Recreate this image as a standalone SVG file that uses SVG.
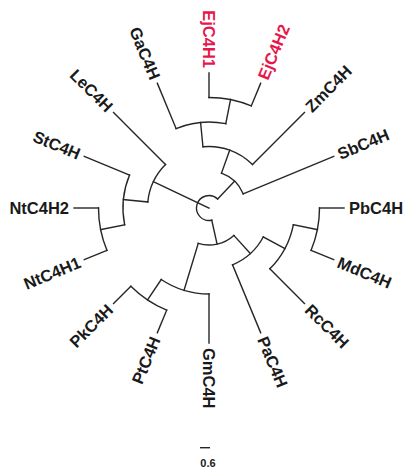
<svg xmlns="http://www.w3.org/2000/svg" width="406" height="473" viewBox="0 0 406 473">
  <style>
    .br { fill: none; stroke: #262626; stroke-width: 1.4; stroke-linecap: square; }
    .lb { font-family: "Liberation Sans", Arial, sans-serif; font-size: 16.5px; font-weight: bold; fill: #1a1a1a; }
    .hl { fill: #e8174b; }
    .st { text-anchor: start; }
    .en { text-anchor: end; }
  </style>
  <rect width="406" height="473" fill="#ffffff"/>

  <!-- radial cladogram, centre (209,208), levels r = 12.5, 37, 61.5, 86, 110.5, tips 135 -->
  <g id="connectors">
    <!-- root -->
    <path class="br" d="M217.62,198.95 A12.5,12.5 0 1 0 211.74,220.20"/>
    <path class="br" d="M209,208 L153.41,181.71"/>

    <!-- monocot / Ga / Ej clade -->
    <path class="br" d="M217.62,198.95 L234.51,181.20"/>
    <path class="br" d="M221.47,173.16 A37,37 0 0 1 243.18,193.84"/>
    <path class="br" d="M243.18,193.84 L333.72,156.34"/>
    <path class="br" d="M221.47,173.16 L229.72,150.10"/>
    <path class="br" d="M202.97,146.80 A61.5,61.5 0 0 1 252.49,164.51"/>
    <path class="br" d="M252.49,164.51 L304.46,112.54"/>
    <path class="br" d="M202.97,146.80 L200.57,122.42"/>
    <path class="br" d="M176.09,128.55 A86,86 0 0 1 225.78,123.65"/>
    <path class="br" d="M176.09,128.55 L157.34,83.28"/>
    <path class="br" d="M225.78,123.65 L230.56,99.62"/>
    <path class="br" d="M209,97.5 A110.5,110.5 0 0 1 251.29,105.91"/>
    <path class="br" d="M209,97.5 L209,73"/>
    <path class="br" d="M251.29,105.91 L260.66,83.28"/>

    <!-- lower clade -->
    <path class="br" d="M211.74,220.20 L217.11,244.10"/>
    <path class="br" d="M233.85,235.42 A37,37 0 0 1 198.26,243.41"/>
    <path class="br" d="M233.85,235.42 L250.30,253.57"/>
    <path class="br" d="M263.24,236.99 A61.5,61.5 0 0 1 232.53,264.82"/>
    <path class="br" d="M232.53,264.82 L260.66,332.72"/>
    <path class="br" d="M263.24,236.99 L284.85,248.54"/>
    <path class="br" d="M293.35,224.78 A86,86 0 0 1 269.81,268.81"/>
    <path class="br" d="M269.81,268.81 L304.46,303.46"/>
    <path class="br" d="M293.35,224.78 L317.38,229.56"/>
    <path class="br" d="M319.5,208 A110.5,110.5 0 0 1 311.09,250.29"/>
    <path class="br" d="M319.5,208 L344,208"/>
    <path class="br" d="M311.09,250.29 L333.72,259.66"/>

    <path class="br" d="M198.26,243.41 L184.04,290.30"/>
    <path class="br" d="M209,294 A86,86 0 0 1 161.22,279.51"/>
    <path class="br" d="M209,294 L209,343"/>
    <path class="br" d="M161.22,279.51 L147.61,299.88"/>
    <path class="br" d="M166.71,310.09 A110.5,110.5 0 0 1 130.86,286.14"/>
    <path class="br" d="M166.71,310.09 L157.34,332.72"/>
    <path class="br" d="M130.86,286.14 L113.54,303.46"/>

    <!-- Solanaceae clade -->
    <path class="br" d="M165.51,164.51 A61.5,61.5 0 0 0 147.80,201.97"/>
    <path class="br" d="M165.51,164.51 L113.54,112.54"/>
    <path class="br" d="M147.80,201.97 L123.42,199.57"/>
    <path class="br" d="M129.55,175.09 A86,86 0 0 0 124.65,224.78"/>
    <path class="br" d="M129.55,175.09 L84.28,156.34"/>
    <path class="br" d="M124.65,224.78 L100.62,229.56"/>
    <path class="br" d="M98.5,208 A110.5,110.5 0 0 0 106.91,250.29"/>
    <path class="br" d="M98.5,208 L74,208"/>
    <path class="br" d="M106.91,250.29 L84.28,259.66"/>
  </g>

  <!-- leaf labels -->
  <g id="PbC4H"><text class="lb st" x="349" y="208" dy=".36em">PbC4H</text></g>
  <g id="MdC4H"><text class="lb st" x="338.34" y="261.58" dy=".36em" transform="rotate(22.5 338.34 261.58)">MdC4H</text></g>
  <g id="RcC4H"><text class="lb st" x="307.99" y="306.99" dy=".36em" transform="rotate(45 307.99 306.99)">RcC4H</text></g>
  <g id="PaC4H"><text class="lb st" x="262.58" y="337.34" dy=".36em" transform="rotate(67.5 262.58 337.34)">PaC4H</text></g>
  <g id="GmC4H"><text class="lb st" x="209" y="348" dy=".36em" transform="rotate(90 209 348)">GmC4H</text></g>
  <g id="PtC4H"><text class="lb en" x="155.43" y="337.34" dy=".36em" transform="rotate(-67.5 155.43 337.34)">PtC4H</text></g>
  <g id="PkC4H"><text class="lb en" x="110.01" y="306.99" dy=".36em" transform="rotate(-45 110.01 306.99)">PkC4H</text></g>
  <g id="NtC4H1"><text class="lb en" x="79.66" y="261.58" dy=".36em" transform="rotate(-22.5 79.66 261.58)">NtC4H1</text></g>
  <g id="NtC4H2"><text class="lb en" x="69" y="208" dy=".36em">NtC4H2</text></g>
  <g id="StC4H"><text class="lb en" x="79.66" y="154.43" dy=".36em" transform="rotate(22.5 79.66 154.43)">StC4H</text></g>
  <g id="LeC4H"><text class="lb en" x="110.01" y="109.01" dy=".36em" transform="rotate(45 110.01 109.01)">LeC4H</text></g>
  <g id="GaC4H"><text class="lb en" x="155.43" y="78.66" dy=".36em" transform="rotate(67.5 155.43 78.66)">GaC4H</text></g>
  <g id="EjC4H1"><text class="lb en hl" x="209" y="68" dy=".36em" transform="rotate(90 209 68)">EjC4H1</text></g>
  <g id="EjC4H2"><text class="lb st hl" x="262.58" y="78.66" dy=".36em" transform="rotate(-67.5 262.58 78.66)">EjC4H2</text></g>
  <g id="ZmC4H"><text class="lb st" x="307.99" y="109.01" dy=".36em" transform="rotate(-45 307.99 109.01)">ZmC4H</text></g>
  <g id="SbC4H"><text class="lb st" x="338.34" y="154.43" dy=".36em" transform="rotate(-22.5 338.34 154.43)">SbC4H</text></g>

  <!-- scale bar -->
  <g id="scale">
    <path class="br" d="M200.7,447.7 L209.3,447.7"/>
    <text x="208" y="467" text-anchor="middle" font-family="'Liberation Sans', Arial, sans-serif" font-size="11" font-weight="bold" fill="#1a1a1a">0.6</text>
  </g>
</svg>
